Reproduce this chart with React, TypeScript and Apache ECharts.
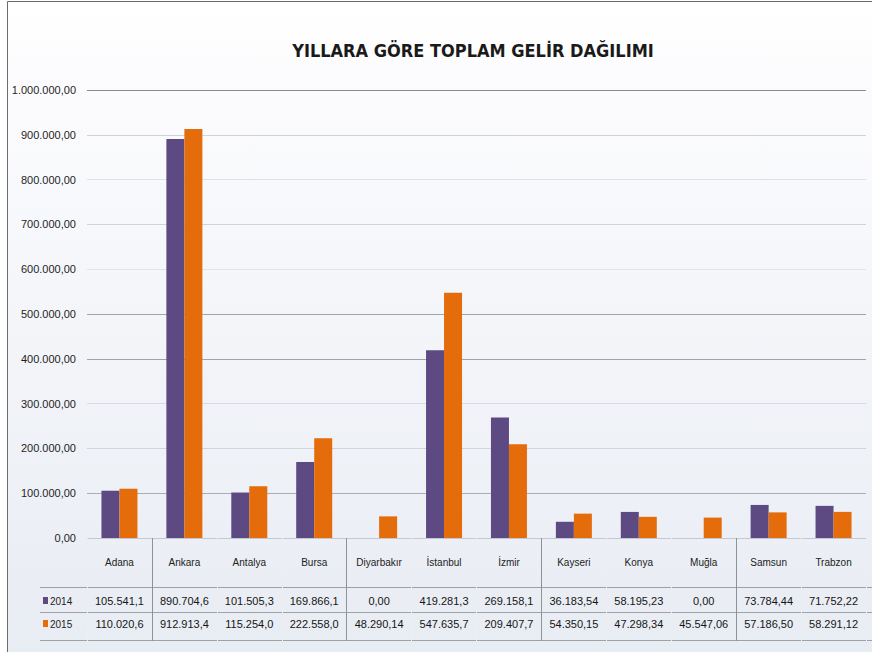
import React, { useEffect, useRef } from 'react';
import * as echarts from 'echarts';

const categories = ['Adana', 'Ankara', 'Antalya', 'Bursa', 'Diyarbakır', 'İstanbul', 'İzmir', 'Kayseri', 'Konya', 'Muğla', 'Samsun', 'Trabzon'];
const seriesNames = ['2014', '2015'];
const values2014 = [105541.1, 890704.6, 101505.3, 169866.1, 0, 419281.3, 269158.1, 36183.54, 58195.23, 0, 73784.44, 71752.22];
const values2015 = [110020.6, 912913.4, 115254.0, 222558.0, 48290.14, 547635.7, 209407.7, 54350.15, 47298.34, 45547.06, 57186.5, 58291.12];
const yMin = 0;
const yMax = 1000000;
const yStep = 100000;
const titleText = 'YILLARA GÖRE TOPLAM GELİR DAĞILIMI';

const colors = ['#5d4a83', '#e46c0a'];

function trFormat(v: number, d: number): string {
  const s = v.toFixed(d);
  const [i, f] = s.split('.');
  const ip = i.replace(/\B(?=(\d{3})+(?!\d))/g, '.');
  return f ? ip + ',' + f : ip;
}
function tableFormat(v: number): string {
  return trFormat(v, v >= 100000 ? 1 : 2);
}

const NARROW = "'Liberation Sans Narrow', 'Arial Narrow', 'DejaVu Sans Condensed', sans-serif";
const SANS = "'Liberation Sans', Arial, sans-serif";

export default function App() {
  const ref = useRef<HTMLDivElement>(null);
  useEffect(() => {
    if (!ref.current) return;
    const chart = echarts.init(ref.current, undefined, { renderer: 'svg' });
    const gridColors = ['#c8ccd4', '#a9adb5', '#d0d4dc', '#d6dae1', '#9fa3aa', '#9fa3aa', '#e0e3e9', '#cfd3da', '#dde0e6', '#cfd3da', '#8c8c8c'];
    const rowAxis = (vals: number[], margin: number) => ({
      type: 'category',
      data: categories,
      gridIndex: 0,
      position: 'bottom',
      offset: 0,
      axisLine: { show: false },
      axisTick: { show: false },
      splitLine: { show: false },
      axisLabel: {
        interval: 0,
        margin,
        fontSize: 11,
        fontFamily: SANS,
        color: '#151515',
        formatter: (_v: string, i: number) => tableFormat(vals[i]),
      },
    });
    chart.setOption({
      animation: false,
      backgroundColor: new echarts.graphic.LinearGradient(0, 0, 0, 1, [
        { offset: 0, color: '#ffffff' },
        { offset: 0.12, color: '#fcfcfe' },
        { offset: 1, color: '#e8ecf3' },
      ]),
      title: {
        text: titleText,
        left: 468,
        top: 36,
        textAlign: 'center',
        textStyle: { fontSize: 18, fontWeight: 'bold', fontFamily: NARROW, color: '#1a1a1a' },
      },
      grid: { left: 87, right: 6, top: 90, bottom: 114, containLabel: false },
      yAxis: {
        type: 'value',
        min: yMin,
        max: yMax,
        interval: yStep,
        axisLine: { show: false },
        axisTick: { show: false },
        axisLabel: {
          margin: 11,
          fontSize: 11,
          fontFamily: SANS,
          color: '#1e1e1e',
          formatter: (v: number) => trFormat(v, 2),
        },
        splitLine: { show: true, lineStyle: { color: gridColors, width: 1 } },
      },
      xAxis: [
        {
          type: 'category',
          data: categories,
          position: 'bottom',
          axisLine: { show: true, lineStyle: { color: '#c3c7cf' } },
          axisTick: {
            show: true,
            interval: (i: number) => i % 3 === 1,
            length: 103,
            lineStyle: { color: '#8d929a' },
          },
          axisLabel: { interval: 0, margin: 19, fontSize: 10, fontFamily: SANS, color: '#222' },
        },
        rowAxis(values2014, 57),
        rowAxis(values2015, 80),
        {
          type: 'category',
          data: categories,
          position: 'bottom',
          offset: 0,
          axisLine: { show: false },
          axisTick: {
            show: true,
            interval: (i: number) => i % 3 !== 1,
            length: 103,
            lineStyle: { color: '#eceef3' },
          },
          axisLabel: { show: false },
        },
      ],
      series: [
        {
          name: seriesNames[0],
          type: 'bar',
          data: values2014,
          barWidth: 18,
          barGap: '0%',
          itemStyle: { color: colors[0] },
        },
        {
          name: seriesNames[1],
          type: 'bar',
          data: values2015,
          barWidth: 18,
          barGap: '0%',
          itemStyle: { color: colors[1] },
        },
      ],
      graphic: [
        { type: 'rect', shape: { x: 0, y: 0, width: 7, height: 652 }, style: { fill: '#ffffff' }, silent: true },
        { type: 'line', shape: { x1: 7.5, y1: 1.5, x2: 872, y2: 1.5 }, style: { stroke: '#6b6b6b', lineWidth: 1 } },
        { type: 'line', shape: { x1: 7.5, y1: 1.5, x2: 7.5, y2: 652 }, style: { stroke: '#6b6b6b', lineWidth: 1 } },
        { type: 'line', shape: { x1: 40, y1: 587.5, x2: 872, y2: 587.5 }, style: { stroke: '#9da2aa', lineWidth: 1 } },
        { type: 'line', shape: { x1: 40, y1: 612.5, x2: 872, y2: 612.5 }, style: { stroke: '#9da2aa', lineWidth: 1 } },
        { type: 'line', shape: { x1: 40, y1: 640.5, x2: 872, y2: 640.5 }, style: { stroke: '#9da2aa', lineWidth: 1 } },
        { type: 'rect', shape: { x: 43, y: 597, width: 5, height: 7 }, style: { fill: colors[0] } },
        { type: 'rect', shape: { x: 43, y: 620, width: 5, height: 7 }, style: { fill: colors[1] } },
        { type: 'text', x: 50, y: 601, style: { text: seriesNames[0], fontSize: 10, fontFamily: SANS, fill: '#1e1e1e', verticalAlign: 'middle' } },
        { type: 'text', x: 50, y: 624, style: { text: seriesNames[1], fontSize: 10, fontFamily: SANS, fill: '#1e1e1e', verticalAlign: 'middle' } },
      ],
    });
    return () => chart.dispose();
  }, []);
  return (
    <div style={{ position: 'fixed', left: 0, top: 0, width: 872, height: 652, background: '#fff' }}>
      <div ref={ref} style={{ width: 872, height: 652 }} />
    </div>
  );
}
